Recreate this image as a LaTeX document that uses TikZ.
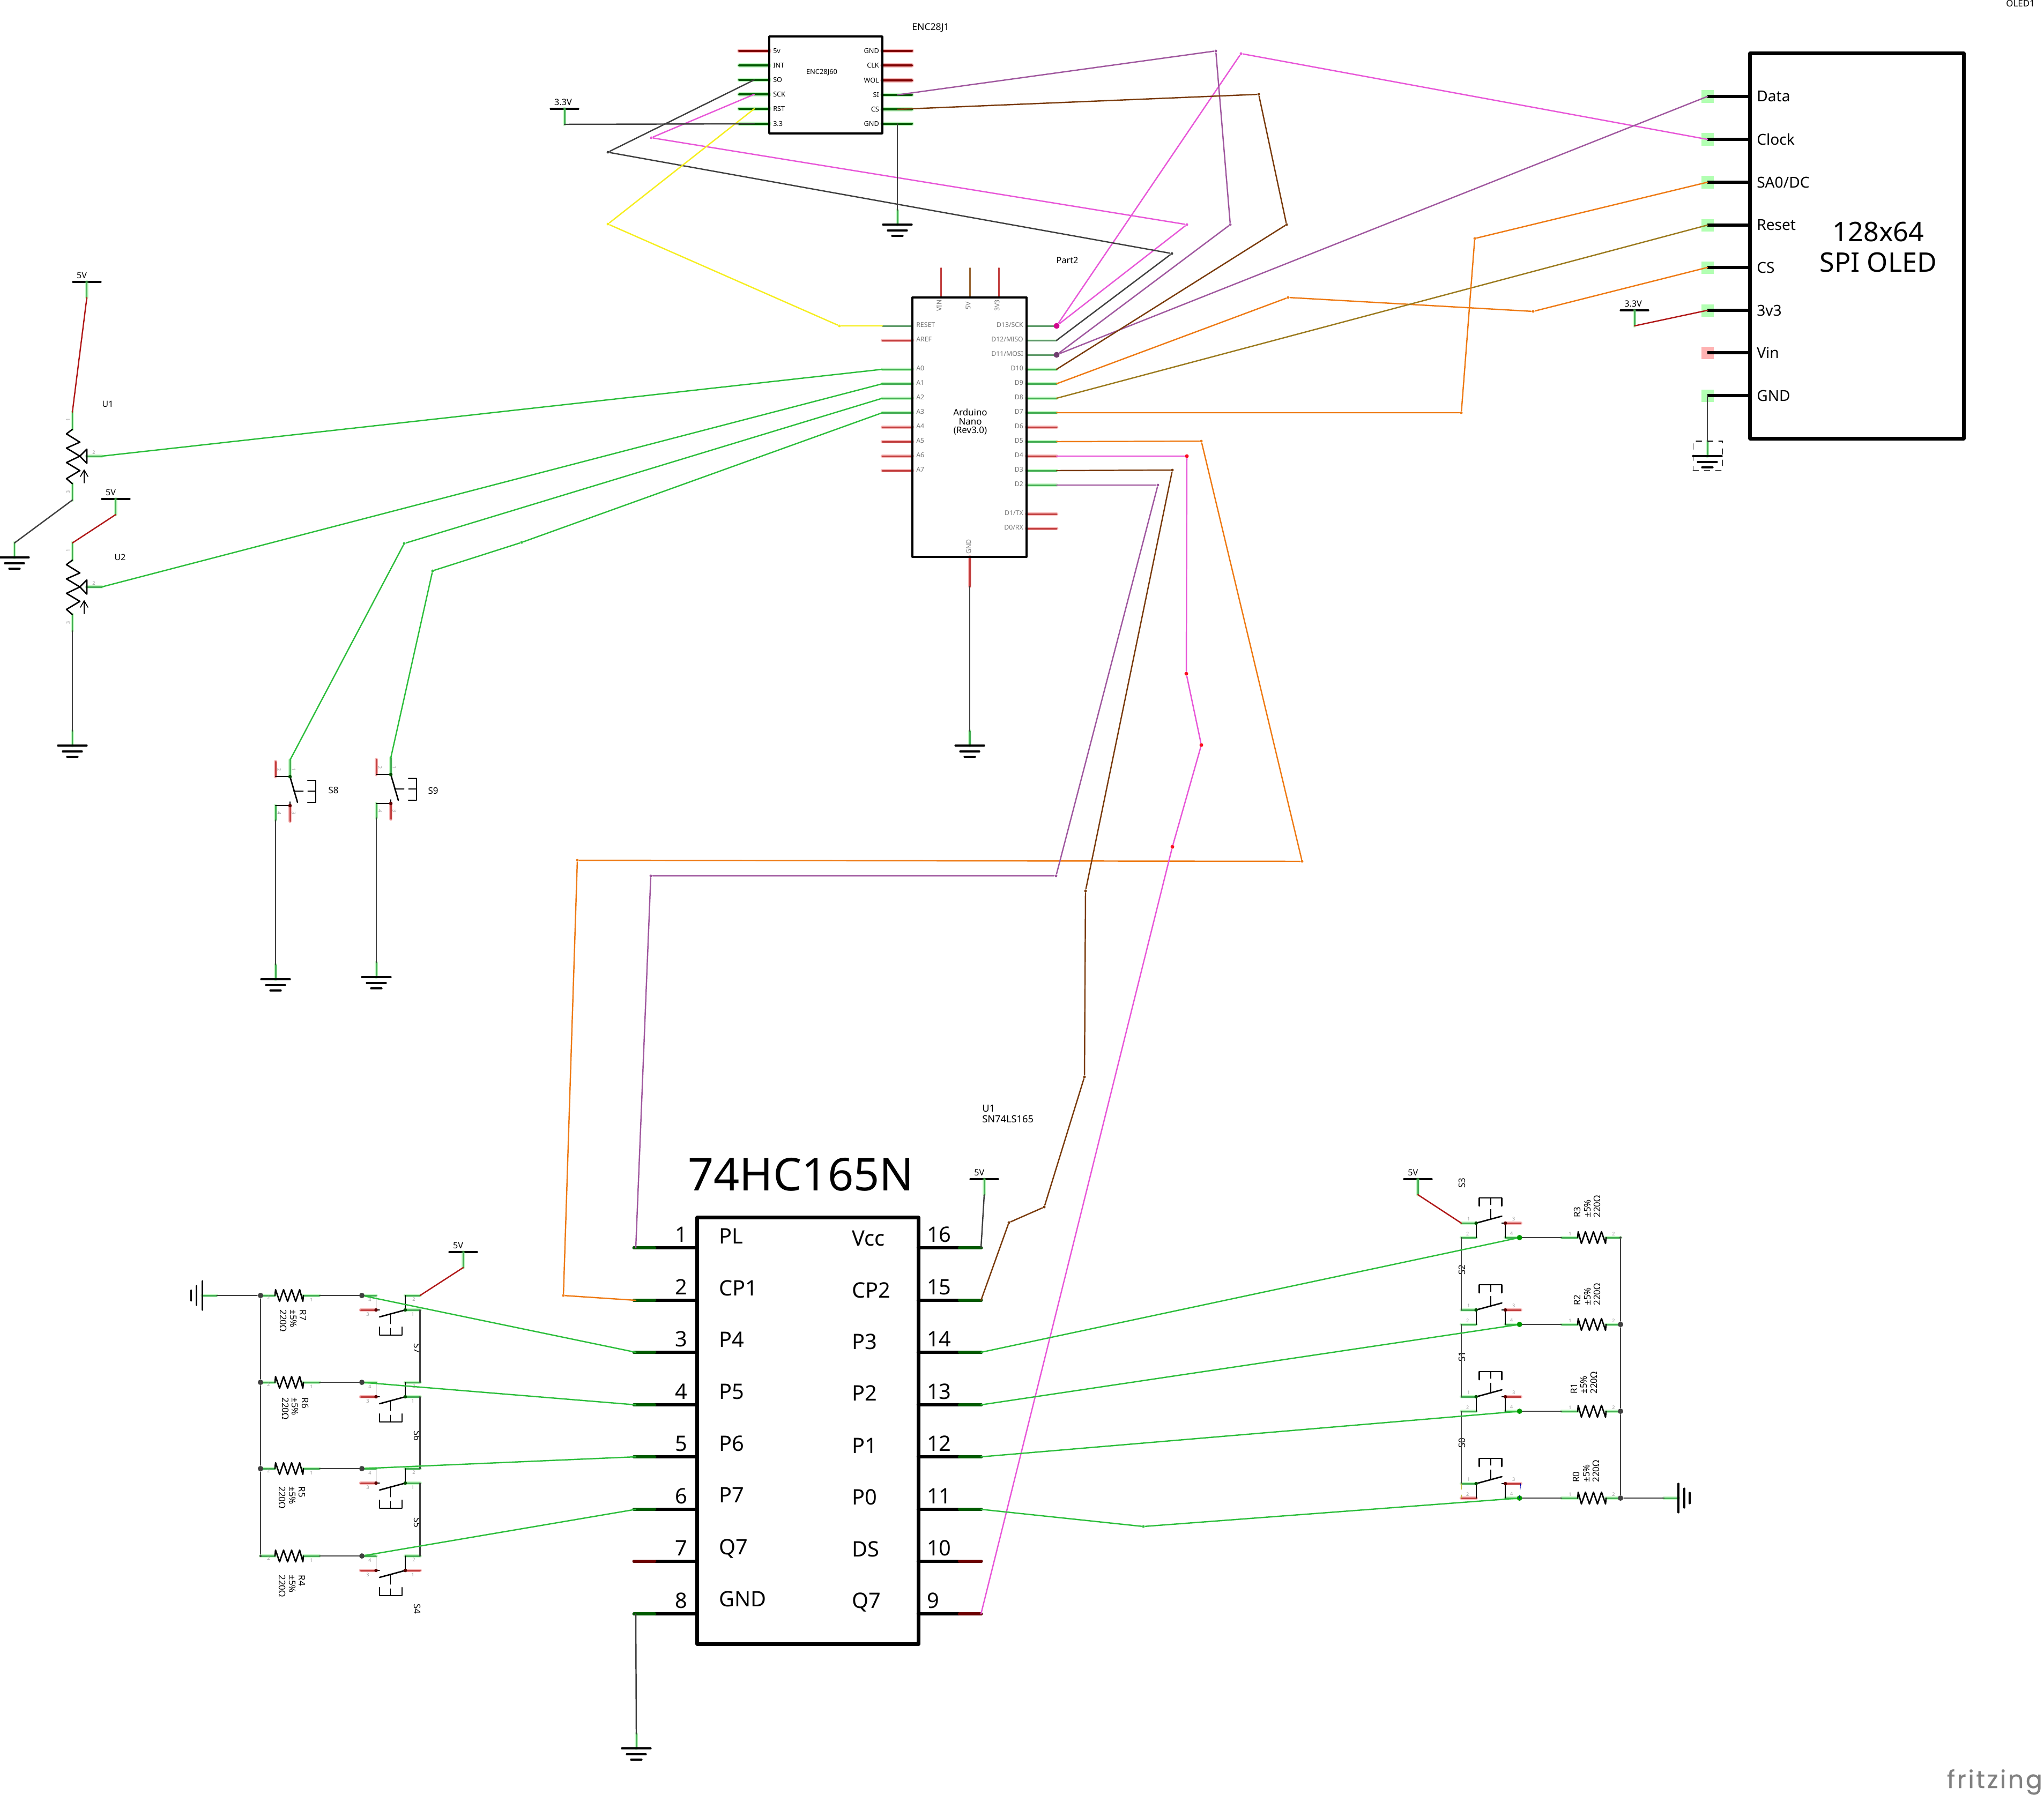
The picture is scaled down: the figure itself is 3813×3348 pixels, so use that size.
\documentclass[tikz,border=0pt]{standalone}
\usepackage{fontspec}
\setmainfont{Noto Sans}
\newfontfamily\wmfont[LetterSpace=8,FakeBold=.6]{Poppins}
\usepackage{xcolor}
\usepackage{tikz}
\usetikzlibrary{positioning}

\definecolor{wgreen}{HTML}{2DBE3C}
\definecolor{wpurple}{HTML}{A0589F}
\definecolor{wpink}{HTML}{E857D8}
\definecolor{wbrown}{HTML}{7A3B0C}
\definecolor{worange}{HTML}{EE7A14}
\definecolor{wolive}{HTML}{9B7A1E}
\definecolor{wyellow}{HTML}{F6EE1E}
\definecolor{wred}{HTML}{B01818}
\definecolor{wdark}{HTML}{404040}
\definecolor{haloG}{HTML}{6CF06C}
\definecolor{haloR}{HTML}{F07070}
\definecolor{legG}{HTML}{45AE55}
\definecolor{legD}{HTML}{5F9A6A}
\definecolor{legR}{HTML}{C24040}

\tikzset{
  lbl/.style={inner sep=0pt,font=\fontsize{#1}{#1}\selectfont},
  pinnr/.style={lbl=2.6,text=black!40},
  arlbl/.style={lbl=3.5,text=black!55},
  chip/.style={draw,rectangle,inner sep=0pt,line width=#1},
  sym/.style={draw=black,line width=.75pt},
  symbar/.style={draw=black,line width=.9pt},
  legok/.style={draw=legG,line width=.85pt,preaction={draw=haloG,opacity=.4,line width=1.9pt}},
  legdim/.style={draw=legD,line width=.85pt,preaction={draw=haloG,opacity=.2,line width=1.4pt}},
  legno/.style={draw=legR,line width=.85pt,preaction={draw=haloR,opacity=.5,line width=1.9pt}},
  enok/.style={draw=green!35!black,line width=1.1pt,preaction={draw=haloG,opacity=.4,line width=2.2pt}},
  enno/.style={draw=red!50!black,line width=1.1pt,preaction={draw=haloR,opacity=.5,line width=2.2pt}},
  icok/.style={draw=green!35!black,line width=1.9pt},
  icno/.style={draw=red!42!black,line width=1.9pt},
  olpad/.style={rectangle,inner sep=0pt,minimum size=.23cm,opacity=.3},
  jog/.style={circle,inner sep=0pt,minimum size=.05cm},
  junc/.style={circle,inner sep=0pt,fill=wdark},
  swdot/.style={circle,inner sep=0pt,minimum size=.065cm,fill=green!30!black},
  wg/.style={draw=wgreen},
  wk/.style={draw=wdark},
}

% ground: stem, then three bars
\newcommand{\gndsym}[4]{
  \begin{scope}[shift={(#2,#3)},rotate=#4]
    \coordinate (#1) at (0,-27);
    \draw[legok] (#1) -- (0,0);
    \draw[symbar] (-27,0) -- (27,0);
    \draw[symbar] (-18,11) -- (18,11);
    \draw[symbar] (-10,21) -- (10,21);
  \end{scope}
}
% supply bar
\newcommand{\vccsym}[4]{
  \coordinate (#1) at (#2,#3+29);
  \draw[symbar] (#2-26,#3) -- (#2+26,#3);
  \draw[legok] (#2,#3) -- (#1);
  \node[lbl=4.6,anchor=west] (#1t) at (#2-20,#3-12) {#4};
}
\newcommand{\resistor}[4]{
  \begin{scope}[shift={(#2,#3)},rotate=#4]
    \coordinate (#1a) at (0,0);
    \coordinate (#1b) at (110,0);
    \draw[legok] (#1a) -- (27,0);
    \draw[legok] (80,0) -- (#1b);
    \draw[sym] (27,0) -- (28,-11) -- (35.5,11) -- (43,-11) -- (50.5,11) -- (58,-11) -- (65.5,11) -- (73,-11) -- (79,11) -- (80,0);
  \end{scope}
}
% push button lying on its side
\newcommand{\hswitch}[6]{
  \begin{scope}[shift={(#2,#3)},rotate=#4]
    \coordinate (#1d) at (0,0);
    \coordinate (#1c) at (-2,27);
    \coordinate (#1p) at (108.6,0);
    \coordinate (#1q) at (108.6,27);
    \draw[legok] (#1d) -- (26.5,0);
    \draw[legno] (#1c) -- (26.5,27);
    \draw[#6] (81,0) -- (#1p);
    \draw[#5] (81,27) -- (#1q);
    \draw[sym,line width=.5pt] (26.5,0) -- (26.5,27) -- (33,27);
    \draw[sym,line width=.5pt] (81,0) -- (81,27);
    \draw[sym] (33,40) -- (81,27);
    \draw[sym,dashed,dash pattern=on 5pt off 2.5pt,line width=.5pt] (53.6,35) -- (53.6,74);
    \draw[sym] (33,59) -- (33,74) -- (75,74) -- (75,59);
    \node[swdot,fill=red!35!black] (#1e) at (26.5,27) {};
    \node[swdot] (#1f) at (81,27) {};
    \node[pinnr] (#1n) at (15,8) {4};
    \node[pinnr] (#1m) at (11,35) {3};
    \node[pinnr] (#1o) at (97,7) {2};
    \node[pinnr] (#1r) at (95,35) {1};
  \end{scope}
}
% push button standing up
\newcommand{\vswitch}[3]{
  \coordinate (#1a) at (#2+27,#3-31);
  \coordinate (#1b) at (#2,#3+81);
  \draw[legok] (#1a) -- (#2+27,#3);
  \draw[legno] (#2,#3-28) -- (#2,#3);
  \draw[sym,line width=.5pt] (#2,#3) -- (#2+27,#3);
  \draw[sym] (#2+27,#3) -- (#2+41,#3+48);
  \draw[sym,dashed,dash pattern=on 5pt off 2.5pt,line width=.5pt] (#2+34,#3+27) -- (#2+75,#3+27);
  \draw[sym] (#2+60,#3+7) -- (#2+75,#3+7) -- (#2+75,#3+48) -- (#2+60,#3+48);
  \draw[legno] (#2+27,#3+54) -- (#2+27,#3+83);
  \draw[legok] (#2,#3+54) -- (#1b);
  \draw[sym,line width=.5pt] (#2,#3+54) -- (#2+27,#3+54) -- (#2+27,#3+47);
  \node[swdot] (#1e) at (#2+27,#3) {};
  \node[swdot,fill=red!35!black] (#1f) at (#2+27,#3+54) {};
  \node[pinnr,rotate=-90] (#1n) at (#2+7,#3-13) {2};
  \node[pinnr,rotate=-90] (#1m) at (#2+34,#3-13) {1};
  \node[pinnr,rotate=-90] (#1o) at (#2+7,#3+68) {4};
  \node[pinnr,rotate=-90] (#1r) at (#2+34,#3+68) {3};
}
\newcommand{\potsym}[3]{
  \begin{scope}[shift={(#2,#3)}]
    \coordinate (#1a) at (0,0);
    \coordinate (#1b) at (55,82);
    \coordinate (#1c) at (0,164);
    \draw[legok] (#1a) -- (0,32);
    \draw[legok] (0,133.5) -- (#1c);
    \draw[legok] (27,82) -- (#1b);
    \draw[sym] (0,32) -- (-11,40.5) -- (14,56) -- (-11,67) -- (14,82) -- (-11,94) -- (14,109) -- (-11,124) -- (0,133.5);
    \draw[sym] (14,82) -- (27,69) -- (27,95.5) -- cycle;
    \draw[sym,line width=.5pt] (22,132) -- (22,108);
    \draw[sym,line width=.5pt] (15,120) -- (22,108) -- (29,120);
    \node[pinnr,rotate=90] (#1n) at (-8,14) {1};
    \node[pinnr,rotate=90] (#1m) at (-8,149) {3};
    \node[pinnr] (#1o) at (40,75) {2};
  \end{scope}
}

\begin{document}
\begin{tikzpicture}[x=.01cm,y=-.01cm,line width=.7pt,line cap=round,line join=round]
\path[use as bounding box,fill=white] (0,0) rectangle (3813,3348);

% ethernet module
\foreach \n/\y/\t/\k in {1/95/5v/enno,2/122/INT/enok,3/149/SO/enok,4/176/SCK/enok,5/203/RST/enok,6/231/3.3/enok}{
  \coordinate (enL\n) at (1407,\y);
  \draw[\k] (1379,\y) -- (1435,\y);
  \node[lbl=3.6,anchor=west] (enLt\n) at (1441,\y) {\t};
}
\foreach \n/\y/\t/\k in {1/95/GND/enno,2/122/CLK/enno,3/150/WOL/enno,4/177/SI/enok,5/204/CS/enok,6/231/GND/enok}{
  \coordinate (enR\n) at (1674,\y);
  \draw[\k] (1646,\y) -- (1701,\y);
  \node[lbl=3.6,anchor=east] (enRt\n) at (1641,\y) {\t};
}
\node[chip=1pt,minimum width=2.11cm,minimum height=1.81cm] (enc) at (1540.5,158.5) {};
\node[lbl=3.65] (encname) at (1533,135) {ENC28J60};
\node[lbl=5] (enctitle) at (1736,52) {ENC28J1};
\vccsym{vcc33a}{1053}{203}{3.3V}
\gndsym{gndenc}{1674}{419}{0}

% arduino
\foreach \n/\y/\k in {RESET/608/legdim,AREF/635/legno,A0/689/legok,A1/716/legok,A2/743/legok,A3/770/legok,A4/797/legno,A5/824/legno,A6/851/legno,A7/878/legno}{
  \coordinate (ar\n) at (1646,\y);
  \draw[\k] (ar\n) -- (1702,\y);
  \node[arlbl,anchor=west] (art\n) at (1708,\y-2) {\n};
}
\foreach \n/\y/\t/\k in {D13/608/{D13/SCK}/legdim,D12/635/{D12/MISO}/legdim,D11/662/{D11/MOSI}/legdim,D10/689/D10/legok,D9/716/D9/legok,D8/743/D8/legok,D7/770/D7/legok,D6/797/D6/legno,D5/824/D5/legok,D4/851/D4/legno,D3/878/D3/legok,D2/905/D2/legok,D1/959/{D1/TX}/legno,D0/986/{D0/RX}/legno}{
  \coordinate (ar\n) at (1971,\y);
  \draw[\k] (1915,\y) -- (ar\n);
  \node[arlbl,anchor=east] (art\n) at (1910,\y-2) {\t};
}
\foreach \n/\x/\t/\c in {VIN/1755/VIN/legR,FIVE/1809/5V/brown!80!black,THREE/1863/3V3/legR}{
  \coordinate (ar\n) at (\x,500);
  \draw[draw=\c,line width=.85pt] (ar\n) -- (\x,555);
  \node[arlbl,rotate=90] (art\n) at (\x-3,570) {\t};
}
\coordinate (arGND) at (1809,1094);
\draw[legno] (1809,1039) -- (arGND);
\node[arlbl,rotate=90] (artGND) at (1807,1020) {GND};
\node[chip=1pt,minimum width=2.13cm,minimum height=4.84cm] (nano) at (1808.5,797) {};
\node[lbl=4.8,align=center] (nanoname) at (1810,787) {Arduino\\Nano\\(Rev3.0)};
\node[lbl=4.6] (part2) at (1991,486) {Part2};
\gndsym{gndnano}{1809}{1391}{0}
\node[jog,minimum size=.11cm,fill=magenta!85!blue] (d13) at (1971,608) {};
\node[jog,minimum size=.11cm,fill=wpurple!70!black] (d11) at (1971,662) {};

% oled
\foreach \n/\y/\t/\c in {Data/180/Data/green,Clock/260/Clock/green,SA/340/{SA0/DC}/green,Reset/420/Reset/green,CS/499/CS/green,Vcc/579/3v3/green,Vin/658/Vin/red,GND/738/GND/green}{
  \node[olpad,fill=\c] (ol\n) at (3185,\y) {};
  \coordinate (olx\n) at (3265,\y);
  \draw[line width=1.9pt,line cap=butt] (ol\n.center) -- (olx\n);
  \node[lbl=8,anchor=west] (olt\n) at (3276,\y) {\t};
}
\node[chip=2pt,minimum width=3.98cm,minimum height=7.18cm] (oled) at (3464,459) {};
\node[lbl=14.3,align=center] (oledname) at (3504,461) {128x64\\[1.9pt]SPI OLED};
\node[lbl=4.8,anchor=east] (oledtitle) at (3797,6) {OLED1};
\vccsym{vcc33b}{3049}{579}{3.3V}
\gndsym{gndoled}{3185}{851}{0}
\node[draw,dashed,line width=.3pt,inner sep=0pt,minimum width=.55cm,minimum height=.54cm] (gndbox) at (3185.5,850) {};

% pots
\potsym{uA}{135}{769}
\potsym{uB}{135}{1013}
\vccsym{vccA}{162}{526}{5V}
\vccsym{vccB}{216}{931}{5V}
\gndsym{gndA}{27}{1040}{0}
\gndsym{gndB}{135}{1391}{0}
\node[lbl=4.5] (uAt) at (201,754) {U1};
\node[lbl=4.5] (uBt) at (224,1040) {U2};

% upper buttons
\vswitch{sE}{514}{1449}
\vswitch{sN}{702}{1445}
\gndsym{gndE}{514}{1827}{0}
\gndsym{gndN}{702}{1823}{0}
\node[lbl=4.8] (sEt) at (622,1474) {S8};
\node[lbl=4.8] (sNt) at (808,1475) {S9};

% shift register
\foreach \n/\y/\ty/\t/\k in {1/2328/2320/PL/icok,2/2426/2417/CP1/icok,3/2523/2513/P4/icok,4/2621/2610/P5/icok,5/2718/2707/P6/icok,6/2816/2803/P7/icok,7/2913/2900/Q7/icno,8/3011/2997/GND/icok}{
  \coordinate (icL\n) at (1186,\y);
  \draw[line width=1.9pt] (1183,\y) -- (1300,\y);
  \draw[\k] (1183,\y) -- (1221,\y);
  \node[lbl=11.3,anchor=east] (icLn\n) at (1283,\y-25) {\n};
  \node[lbl=11.3,anchor=base west] (icLt\n) at (1340,\ty) {\t};
}
\foreach \n/\y/\ty/\t/\k in {16/2328/2324/Vcc/icok,15/2426/2421/CP2/icok,14/2523/2517/P3/icok,13/2621/2613/P2/icok,12/2718/2711/P1/icok,11/2816/2807/P0/icok,10/2913/2904/DS/icno,9/3011/3000/Q7/icno}{
  \coordinate (icR\n) at (1830,\y);
  \draw[line width=1.9pt] (1713,\y) -- (1830,\y);
  \draw[\k] (1790,\y) -- (1830,\y);
  \node[lbl=11.3,anchor=west] (icRn\n) at (1728,\y-25) {\n};
  \node[lbl=11.3,anchor=base west] (icRt\n) at (1588,\ty) {\t};
}
\node[chip=2pt,minimum width=4.125cm,minimum height=7.95cm] (sr) at (1507,2669.5) {};
\node[lbl=24] (srname) at (1494,2191) {74HC165N};
\node[lbl=5.2,align=left,anchor=north west] (srtitle) at (1831,2060) {U1\\[.4pt]SN74LS165};
\vccsym{vccsr}{1836}{2200}{5V}
\gndsym{gndsr}{1187}{3262}{0}

% left row of buttons
\foreach \n/\y/\j/\tx/\ty/\sy in {7/2417/10/547/2464/2516,6/2579/10/551/2628/2679,5/2740/10/545/2794/2841,4/2903/4/545/2959/3002}{
  \resistor{rL\n}{486}{\y}{0}
  \node[junc,minimum size=\j*.2845pt] (jL\n) at (486,\y) {};
  \node[pinnr] (rLn\n) at (501,\y+4) {2};
  \node[pinnr] (rLm\n) at (581,\y+8) {1};
  \node[lbl=4.8,rotate=-90,align=left] (rLt\n) at (\tx,\ty) {R\n\\[.5pt]±5\%\\[.5pt]220Ω};
  \node[lbl=4.8,rotate=-90] (sLt\n) at (779,\sy) {S\n};
}
\hswitch{sw7}{675}{2417}{0}{legok}{legok}
\hswitch{sw6}{675}{2579}{0}{legok}{legok}
\hswitch{sw5}{675}{2740}{0}{legok}{legok}
\hswitch{sw4}{675}{2903}{0}{legno}{legok}
\node[swdot,fill=red!35!black] (sw4x) at (756,2930) {};
\foreach \n in {7,6,5,4}{
  \draw[wk] (rL\n b) -- (sw\n d);
  \node[junc,minimum size=.1cm] (jS\n) at (sw\n d) {};
}
\gndsym{gndL}{377.5}{2417}{-90}
\vccsym{vccL}{864}{2336}{5V}

% right row of buttons
\foreach \n/\y/\j/\tx/\ty/\sy in {3/2309/4/2961/2251/2207,2/2471/10/2961/2415/2369,1/2633/10/2955/2580/2531,0/2795/10/2959/2745/2692}{
  \resistor{rR\n}{3023}{\y}{180}
  \node[junc,minimum size=\j*.2845pt] (jR\n) at (3023,\y) {};
  \node[pinnr] (rRn\n) at (3010,\y-7) {2};
  \node[pinnr] (rRm\n) at (2929,\y-7) {1};
  \node[lbl=4.8,rotate=90,align=left] (rRt\n) at (\tx,\ty) {R\n\\[.5pt]±5\%\\[.5pt]220Ω};
  \node[lbl=4.8,rotate=90] (sRt\n) at (2727,\sy) {S\n};
}
\hswitch{sw3}{2834.6}{2309}{180}{legok}{legok}
\hswitch{sw2}{2834.6}{2471}{180}{legok}{legok}
\hswitch{sw1}{2834.6}{2633}{180}{legok}{legok}
\hswitch{sw0}{2834.6}{2795}{180}{legok}{legno}
\foreach \n in {3,2,1,0}{
  \draw[wk] (rR\n b) -- (sw\n d);
  \node[junc,fill=green!60!black,minimum size=.1cm] (jT\n) at (sw\n d) {};
}
\gndsym{gndR}{3131}{2795}{90}
\vccsym{vccR}{2645}{2200}{5V}

% bends
\foreach \n/\x/\y/\c in {
  kA/2315/100/wpink, kB/2214/419/wpink, kC/1215/257/wpink,
  kD/2186/473/wdark, kE/1134/284/wdark,
  kF/2295/419/wpurple, kG/2268/95/wpurple,
  kH/2400/419/wbrown, kI/2348/176/wbrown,
  kJ/2403/555/worange, kK/2860/581/worange,
  kL/2726/770/worange, kM/2751/445/worange,
  kN/2241/823/worange, kO/2429/1607/worange, kP/1077/1605/worange, kQ/1051/2417/worange,
  kV/2187/877/wbrown, kW/2025/1662/wbrown, kX/2023/2009/wbrown, kY/1948/2252/wbrown, kZ/1882/2281/wbrown,
  ka/2160/905/wpurple, kb/1970/1634/wpurple, kc/1214/1634/wpurple,
  kd/754/1014/wgreen, ke/973/1012/wgreen, kf/807/1065/wgreen,
  kg/1134/418/wyellow, kh/1566/608/wyellow, ki/2133/2848/wgreen}{
  \node[jog,fill=\c] (\n) at (\x,\y) {};
}
\foreach \n/\x/\y in {kR/2214/851,kS/2213/1257,kT/2241/1390,kU/2187/1580}{
  \node[jog,minimum size=.07cm,fill=red!85!wpink] (\n) at (\x,\y) {};
}

% wires
\draw[draw=wpink] (d13) -- (kA) -- (olClock.center);
\draw[draw=wpink] (d13) -- (kB) -- (kC) -- (enL4);
\draw[wk] (arD12) -- (kD) -- (kE) -- (enL3);
\draw[draw=wpurple] (d11) -- (kF) -- (kG) -- (enR4);
\draw[draw=wpurple] (d11) -- (olData.center);
\draw[draw=wbrown] (arD10) -- (kH) -- (kI) -- (enR5);
\draw[draw=worange] (arD9) -- (kJ) -- (kK) -- (olCS.center);
\draw[draw=wolive] (arD8) -- (olReset.center);
\draw[draw=worange] (arD7) -- (kL) -- (kM) -- (olSA.center);
\draw[draw=worange] (arD5) -- (kN) -- (kO) -- (kP) -- (kQ) -- (icL2);
\draw[draw=wpink] (arD4) -- (kR) -- (kS) -- (kT) -- (kU) -- (icR9);
\draw[draw=wbrown] (arD3) -- (kV) -- (kW) -- (kX) -- (kY) -- (kZ) -- (icR15);
\draw[draw=wpurple] (arD2) -- (ka) -- (kb) -- (kc) -- (icL1);
\draw[draw=wyellow] (enL5) -- (kg) -- (kh) -- (arRESET);
\draw[wk] (vcc33a) -- (enL6);
\draw[wk] (enR6) -- (gndenc);
\draw[wk] (arGND) -- (gndnano);
\draw[wk] (olGND.center) -- (gndoled);
\draw[draw=wred] (vcc33b) -- (olVcc.center);
\draw[draw=wred] (vccA) -- (uAa);
\draw[draw=wred] (vccB) -- (uBa);
\draw[wk] (uAc) -- (gndA);
\draw[wk] (uBc) -- (gndB);
\draw[wg] (uAb) -- (arA0);
\draw[wg] (uBb) -- (arA1);
\draw[wg] (arA2) -- (kd) -- (sEa);
\draw[wg] (arA3) -- (ke) -- (kf) -- (sNa);
\draw[wk] (sEb) -- (gndE);
\draw[wk] (sNb) -- (gndN);
\draw[wk] (vccsr) -- (icR16);
\draw[wk] (icL8) -- (gndsr);

\draw[wk] (gndL) -- (jL7);
\draw[wk] (jL7) -- (jL6);
\draw[wk] (jL6) -- (jL5);
\draw[wk] (jL5) -- (jL4);
\draw[draw=wred] (vccL) -- (sw7p);
\draw[wk] (sw7q) -- (sw6p);
\draw[wk] (sw6q) -- (sw5p);
\draw[wk] (sw5q) -- (sw4p);
\draw[wg] (jS7) -- (icL3);
\draw[wg] (jS6) -- (icL4);
\draw[wg] (jS5) -- (icL5);
\draw[wg] (jS4) -- (icL6);

\draw[wk] (jR3) -- (jR2);
\draw[wk] (jR2) -- (jR1);
\draw[wk] (jR1) -- (jR0);
\draw[wk] (jR0) -- (gndR);
\draw[draw=wred] (vccR) -- (sw3q);
\draw[wk] (sw3p) -- (sw2q);
\draw[wk] (sw2p) -- (sw1q);
\draw[wk] (sw1p) -- (sw0q);
\draw[wg] (jT3) -- (icR14);
\draw[wg] (jT2) -- (icR13);
\draw[wg] (jT1) -- (icR12);
\draw[wg] (jT0) -- (ki) -- (icR11);
\draw[draw=yellow!70!black,line width=.25pt,dashed] (sw0q) -- (sw0p);
\draw[draw=blue!70!black,line width=.25pt,dashed] (sw0c) -- (sw0d);

\node[anchor=base east,inner sep=0pt,text=black!50,font=\wmfont\fontsize{13}{13}\selectfont] (wmark) at (3811,3336) {fritzing};
\end{tikzpicture}
\end{document}
